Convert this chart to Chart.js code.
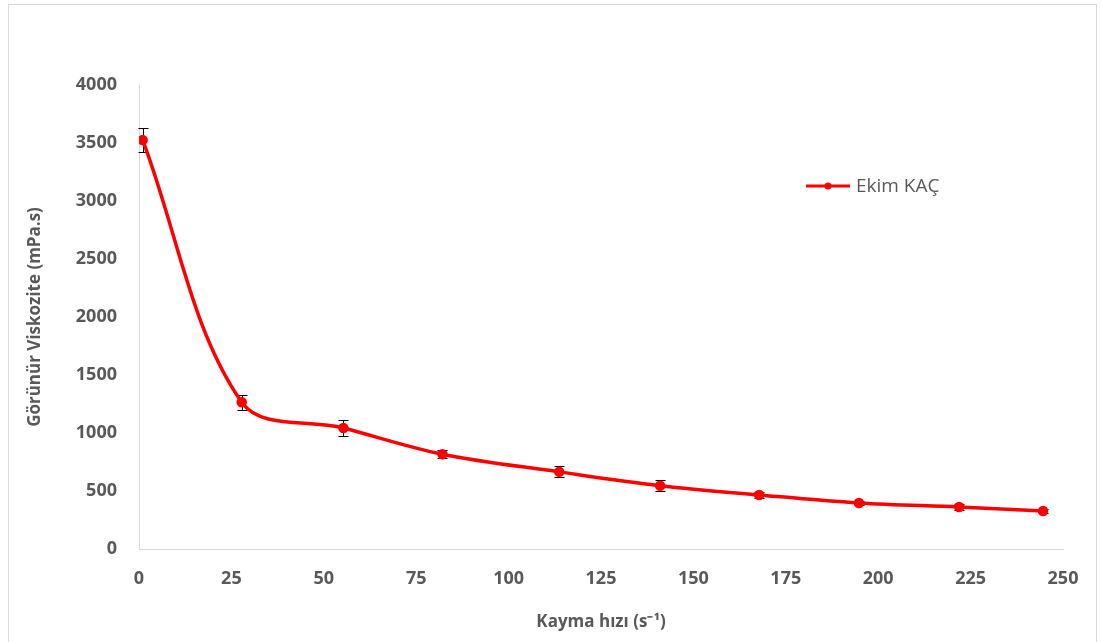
<!DOCTYPE html>
<html>
<head>
<meta charset="utf-8">
<script src="https://cdn.jsdelivr.net/npm/chart.js@4"></script>
<style>
  html, body { margin: 0; padding: 0; background: #fff; }
  #wrap { position: relative; width: 1101px; height: 642px; }
  #frame { position: absolute; left: 8px; top: 4px; width: 1089px; height: 640px; border: 1px solid #d9d9d9; box-sizing: border-box; pointer-events: none; }
</style>
</head>
<body>
<div id="wrap">
  <canvas id="viscChart" width="1101" height="642"></canvas>
  <div id="frame"></div>
</div>
<script>
// Kayma hızı (s-1) ve görünür viskozite (mPa.s) değerleri
const shearRates = [1.0, 27.8, 55.3, 82.1, 113.7, 141.0, 167.8, 194.8, 221.9, 244.6];
const viscosity = [3525, 1265, 1043, 817, 665, 546, 466, 397, 362, 328];
const viscosityErr = [105, 66, 72, 35, 48, 46, 25, 18, 22, 15];
const seriesLabel = 'Ekim KAÇ';
const xTitle = 'Kayma hızı (s⁻¹)';
const yTitle = 'Görünür Viskozite (mPa.s)';

const textColor = '#595959';
const axisColor = '#d9d9d9';
const fontFamily = "'Open Sans', sans-serif";

// Hata çubukları (dikey, uçlu)
const errorBars = {
  id: 'errorBars',
  beforeDatasetsDraw(chart) {
    const ctx = chart.ctx;
    const xs = chart.scales.x;
    const ys = chart.scales.y;
    ctx.save();
    ctx.strokeStyle = '#000';
    ctx.lineWidth = 1;
    shearRates.forEach((x, i) => {
      const px = Math.round(xs.getPixelForValue(x)) + 0.5;
      const top = Math.round(ys.getPixelForValue(viscosity[i] + viscosityErr[i])) + 0.5;
      const bot = Math.round(ys.getPixelForValue(viscosity[i] - viscosityErr[i])) + 0.5;
      ctx.beginPath();
      ctx.moveTo(px, top); ctx.lineTo(px, bot);
      ctx.moveTo(px - 5, top); ctx.lineTo(px + 5, top);
      ctx.moveTo(px - 5, bot); ctx.lineTo(px + 5, bot);
      ctx.stroke();
    });
    ctx.restore();
  }
};

// Excel tarzı gösterge: çizgi + nokta + etiket
const lineLegend = {
  id: 'lineLegend',
  afterDraw(chart) {
    const ds = chart.data.datasets[0];
    const ctx = chart.ctx;
    const x0 = 806, y0 = 186;
    ctx.save();
    ctx.strokeStyle = ds.borderColor;
    ctx.lineWidth = 3;
    ctx.beginPath();
    ctx.moveTo(x0, y0); ctx.lineTo(x0 + 44, y0);
    ctx.stroke();
    ctx.fillStyle = ds.pointBackgroundColor;
    ctx.beginPath();
    ctx.arc(x0 + 22, y0, 3.5, 0, Math.PI * 2);
    ctx.fill();
    ctx.fillStyle = textColor;
    ctx.font = '19px ' + fontFamily;
    ctx.textBaseline = 'middle';
    ctx.fillText(ds.label, x0 + 50, y0 + 1);
    ctx.restore();
  }
};

const ctx = document.getElementById('viscChart').getContext('2d');
new Chart(ctx, {
  type: 'line',
  data: {
    datasets: [{
      label: seriesLabel,
      data: shearRates.map((x, i) => ({ x: x, y: viscosity[i] })),
      borderColor: '#ff0000',
      backgroundColor: '#ff0000',
      pointBackgroundColor: '#ff0000',
      pointBorderColor: '#ff0000',
      pointRadius: 3.5,
      borderWidth: 3.5,
      tension: 0.35,
      fill: false
    }]
  },
  options: {
    responsive: false,
    animation: false,
    layout: { padding: { left: 25, right: 38, top: 85, bottom: 6 } },
    plugins: {
      legend: { display: false },
      tooltip: { enabled: false }
    },
    scales: {
      x: {
        type: 'linear',
        min: 0,
        max: 250,
        afterFit: (scale) => { scale.height = 87; },
        ticks: {
          stepSize: 25,
          padding: 19,
          color: textColor,
          font: { family: fontFamily, size: 18, weight: 'bold' }
        },
        grid: { drawOnChartArea: false, drawTicks: false },
        border: { color: axisColor, width: 1 },
        title: {
          display: true,
          text: xTitle,
          color: textColor,
          font: { family: fontFamily, size: 17, weight: 'bold' },
          padding: { top: 4, bottom: 4 }
        }
      },
      y: {
        min: 0,
        max: 4000,
        afterFit: (scale) => { scale.width = 114; },
        ticks: {
          stepSize: 500,
          padding: 22,
          color: textColor,
          font: { family: fontFamily, size: 18, weight: 'bold' },
          callback: (value) => String(value)
        },
        grid: { drawOnChartArea: false, drawTicks: false },
        border: { color: axisColor, width: 1 },
        title: {
          display: true,
          text: yTitle,
          color: textColor,
          font: { family: fontFamily, size: 17, weight: 'bold' },
          padding: { top: 0, bottom: 0 }
        }
      }
    }
  },
  plugins: [errorBars, lineLegend]
});
</script>
</body>
</html>
